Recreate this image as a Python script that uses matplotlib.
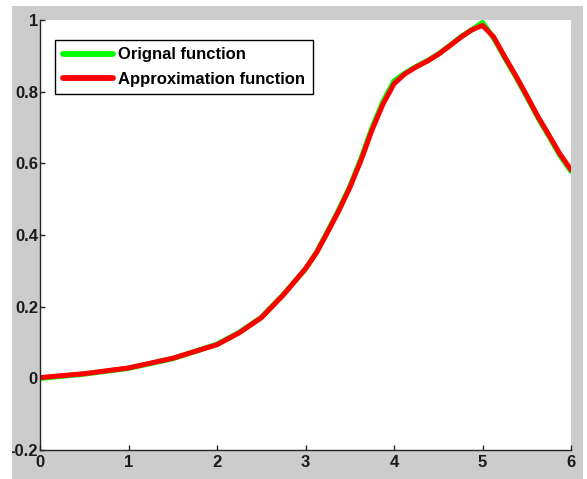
import numpy as np
import matplotlib
matplotlib.use('Agg')
import matplotlib.pyplot as plt
from matplotlib.patches import Rectangle

# Sampled values of the target function and its approximation
x_vals = [0.0, 0.5, 1.0, 1.5, 2.0, 2.25, 2.5, 2.75, 3.0, 3.125, 3.25, 3.375,
          3.5, 3.625, 3.75, 3.875, 4.0, 4.125, 4.25, 4.375, 4.5, 4.625, 4.75,
          4.875, 5.0, 5.125, 5.25, 5.375, 5.5, 5.625, 5.75, 5.875, 6.0]
orig_vals = [0.0, 0.012, 0.028, 0.055, 0.095, 0.128, 0.170, 0.234, 0.305, 0.352,
             0.410, 0.470, 0.535, 0.612, 0.698, 0.772, 0.830, 0.852, 0.870, 0.886,
             0.905, 0.928, 0.952, 0.972, 0.993, 0.950, 0.895, 0.842, 0.786, 0.728,
             0.676, 0.622, 0.578]
approx_vals = [0.002, 0.013, 0.029, 0.056, 0.094, 0.127, 0.169, 0.233, 0.306, 0.351,
               0.408, 0.467, 0.532, 0.607, 0.692, 0.765, 0.822, 0.850, 0.869, 0.885,
               0.904, 0.927, 0.951, 0.972, 0.985, 0.953, 0.898, 0.845, 0.789, 0.731,
               0.679, 0.626, 0.582]

y_ticks = [-0.2, 0, 0.2, 0.4, 0.6, 0.8, 1]
y_labels = ['-0.2', '0', '0.2', '0.4', '0.6', '0.8', '1']
x_ticks = [0, 1, 2, 3, 4, 5, 6]

plt.rcParams['font.family'] = ['Liberation Sans', 'DejaVu Sans']
plt.rcParams['font.weight'] = 'bold'

W, H = 587, 479
fig = plt.figure(figsize=(W / 100, H / 100), dpi=100, facecolor='white')

# grey figure panel behind the axes
panel = Rectangle((12 / W, 0), (583 - 12) / W, (H - 6) / H,
                  transform=fig.transFigure, facecolor='#cccccc',
                  edgecolor='none', zorder=-10)
fig.patches.append(panel)

ax = fig.add_axes([40 / W, (H - 450) / H, (571 - 40) / W, (450 - 20) / H])
ax.set_zorder(1)
ax.set_facecolor('white')

ax.plot(x_vals, orig_vals, color='#00ff00', linewidth=3.8,
        label='Orignal function', solid_capstyle='round', solid_joinstyle='round')
ax.plot(x_vals, approx_vals, color='#ff0000', linewidth=3.6,
        label='Approximation function', solid_capstyle='round', solid_joinstyle='round')

ax.set_xlim(0, 6)
ax.set_ylim(-0.2, 1)
ax.set_xticks(x_ticks)
ax.set_yticks(y_ticks)
ax.set_yticklabels(y_labels)

for side in ['top', 'right']:
    ax.spines[side].set_visible(False)
for side in ['left', 'bottom']:
    ax.spines[side].set_color('#262626')
    ax.spines[side].set_linewidth(1.0)

ax.tick_params(axis='both', direction='in', length=3.5, width=1,
               color='#262626', labelsize=12, labelcolor='#1a1a1a')
ax.tick_params(axis='y', pad=1.5)
ax.tick_params(axis='x', pad=3.5)

for lbl in ax.get_yticklabels() + ax.get_xticklabels():
    lbl.set_fontweight('bold')
    lbl.set_clip_path(panel)

leg = ax.legend(loc='upper left', bbox_to_anchor=(55 / W, 1 - 40 / H),
                bbox_transform=fig.transFigure, frameon=True, fancybox=False,
                edgecolor='black', framealpha=1, borderpad=0.45,
                handlelength=3.0, handletextpad=0.35, labelspacing=0.55,
                borderaxespad=0, prop={'weight': 'bold', 'size': 12})
leg.get_frame().set_linewidth(1.0)
for line in leg.get_lines():
    line.set_linewidth(4.2)

fig.savefig('out.png', dpi=100, facecolor='white')
